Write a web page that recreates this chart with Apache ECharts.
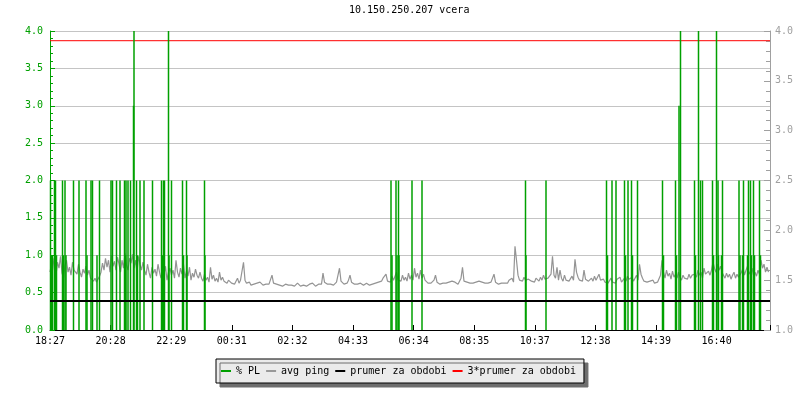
<!DOCTYPE html>
<html>
<head>
<meta charset="utf-8">
<script src="https://cdn.jsdelivr.net/npm/echarts@6/dist/echarts.min.js"></script>
<style>html,body{margin:0;padding:0;background:#fff}#c{width:800px;height:400px}</style>
</head>
<body>
<div id="c"></div>
<script>
// X axis: minutes since 18:27, 24 h window; labels every ~121.2 min
var tickLabels = ['18:27','20:28','22:29','00:31','02:32','04:33','06:34','08:35','10:37','12:38','14:39','16:40'];
var leftTicks = ['0.0','0.5','1.0','1.5','2.0','2.5','3.0','3.5','4.0'];

// % PL events: [minute, value]
var plEvents = [
  [1,2],[3,1],[5,1],[9,2],[11,2],[13,1],[25,2],[27,1],[30,2],[32,1],[47,2],[58,2],[72,2],[74,1],
  [82,2],[85,2],[94,1],[99,2],[122,2],[125,2],[133,2],[140,2],[149,2],[151,1],[152,2],[156,2],
  [161,2],[167,3],[168,4],[173,2],[175,1],[180,2],[188,2],[205,2],[223,2],[225,1],[227,2],[229,2],
  [237,4],[238,1],[243,2],[265,2],[267,1],[273,2],[274,1],[309,2],[310,1],
  [682,2],[684,1],[692,2],[694,1],[697,2],[698,1],[724,2],[744,2],[951,2],[952,1],
  [992,2],[1113,2],[1115,1],[1124,2],[1132,2],[1149,2],[1151,1],[1156,2],[1163,2],[1165,1],[1175,2],
  [1225,2],[1227,1],[1251,2],[1253,1],[1258,3],[1261,4],[1289,2],[1291,1],[1297,4],[1301,2],[1305,2],
  [1325,2],[1327,1],[1333,4],[1336,2],[1337,1],[1343,1],[1345,2],[1378,2],[1380,1],[1385,1],[1387,2],
  [1395,1],[1397,2],[1401,2],[1403,1],[1407,2],[1409,1],[1419,2],[1421,1]
];

// avg ping (ms), one sample every 3 minutes from 18:27
var avgPing = [
  1.58,1.66,1.72,1.60,1.55,1.68,1.62,1.74,1.57,1.52,1.65,1.70,1.58,1.63,1.55,1.68,1.60,
  1.62,1.56,1.66,1.58,1.53,1.61,1.57,1.64,1.55,1.60,1.52,1.50,1.49,1.52,1.48,1.50,1.54,
  1.58,1.67,1.60,1.72,1.63,1.70,1.58,1.75,1.64,1.69,1.60,1.73,1.66,1.58,1.70,1.62,1.77,1.65,1.60,1.72,1.67,1.76,1.62,1.70,1.58,1.74,1.66,1.60,1.68,
  1.60,1.55,1.66,1.58,1.52,1.63,1.57,1.61,1.54,1.66,1.58,1.52,1.60,1.56,1.64,1.50,1.58,1.62,
  1.55,1.60,1.52,1.70,1.58,1.53,1.62,1.56,1.66,1.52,1.59,1.54,1.63,1.50,1.57,1.53,1.61,1.55,1.52,1.58,
  1.52,1.49,1.56,1.50,1.53,1.48,1.63,1.51,1.55,1.49,1.52,1.48,1.58,1.50,1.53,1.49,1.51,1.47,1.50,1.48,
  1.47,1.49,1.46,1.48,1.52,1.47,1.50,1.49,1.68,1.50,1.47,1.46,1.48,1.45,1.47,1.46,1.45,1.47,1.46,1.48,
  1.46,1.45,1.47,1.46,1.44,1.46,1.48,1.55,1.47,1.45,1.46,1.44,1.45,1.47,1.44,1.45,1.46,1.44,1.45,1.46,
  1.45,1.46,1.44,1.45,1.47,1.45,1.44,1.46,1.45,1.47,1.44,1.45,1.46,1.45,1.47,1.46,1.44,1.45,1.46,1.48,
  1.46,1.57,1.48,1.47,1.46,1.45,1.46,1.47,1.45,1.46,
  1.48,1.50,1.62,1.49,1.47,1.46,1.48,1.47,1.50,1.55,1.48,1.47,1.46,1.47,1.46,1.45,1.47,1.46,1.45,1.46,
  1.47,1.46,1.45,1.47,1.46,1.48,1.47,1.46,1.48,1.47,
  1.49,1.52,1.50,1.56,1.49,1.51,1.48,1.54,1.50,1.49,1.58,1.50,1.52,1.49,1.55,1.50,1.53,1.49,1.57,1.51,
  1.55,1.50,1.62,1.53,1.57,1.51,1.60,1.52,1.56,1.50,
  1.48,1.47,1.49,1.47,1.48,1.50,1.55,1.48,1.47,1.46,1.48,1.47,1.49,1.47,1.46,1.48,1.47,1.49,1.47,1.48,
  1.47,1.46,1.49,1.52,1.63,1.49,1.47,1.48,1.46,1.47,1.48,1.47,1.46,1.48,1.47,1.49,1.47,1.48,1.46,1.47,
  1.48,1.47,1.49,1.48,1.47,1.56,1.48,1.47,1.46,1.48,1.47,1.49,1.47,1.48,1.47,1.50,1.49,1.52,1.48,1.84,
  1.70,1.55,1.50,
  1.52,1.49,1.53,1.50,1.48,1.51,1.49,
  1.49,1.50,1.48,1.52,1.50,1.49,1.53,1.50,1.55,1.51,1.49,1.52,1.50,1.56,1.74,1.55,1.52,1.63,1.50,1.60,
  1.52,1.49,1.55,1.50,1.52,1.49,1.51,1.54,1.50,1.71,1.58,1.53,1.50,1.52,1.49,1.60,1.51,1.53,1.49,1.50,
  1.52,1.49,1.54,1.50,1.48,1.56,1.50,1.49,1.51,1.48,1.50,1.47,1.49,1.52,1.48,1.50,1.47,1.51,1.49,1.53,
  1.48,1.50,1.52,1.49,1.54,1.51,1.50,1.53,1.49,1.52,1.55,1.50,1.66,1.56,1.52,1.49,1.51,1.48,1.50,1.49,
  1.48,1.50,1.47,1.49,1.48,1.50,
  1.55,1.70,1.58,1.52,1.60,1.54,1.57,1.51,1.59,1.53,1.56,1.52,1.58,
  1.53,1.50,1.55,1.52,1.54,1.51,1.56,1.52,1.55,1.53,
  1.56,1.53,1.60,1.55,1.58,1.52,1.62,1.56,1.54,1.59,1.55,1.60,
  1.68,1.62,1.58,1.66,1.60,1.64,1.58,
  1.55,1.52,1.57,1.53,1.56,1.51,1.55,1.58,1.52,1.56,1.53,1.55,
  1.58,1.62,1.55,1.60,1.64,1.56,1.59,1.62,1.55,1.58,
  1.54,1.60,1.56,1.70,1.62,1.66,1.58,1.63,1.58
];
var sampleStep = 3;
var meanPing = 1.29;     // prumer za obdobi (right axis)
var tripleMean = 3.87;   // 3*prumer za obdobi (left axis)

var font = 'DejaVu Sans Mono';
var pingData = avgPing.map(function (v, i) { return [i * sampleStep, v]; });

var chart = echarts.init(document.getElementById('c'), null, {renderer: 'canvas'});
chart.setOption({
  animation: false,
  backgroundColor: '#ffffff',
  title: {
    text: '10.150.250.207 vcera', left: 349, top: 5, padding: 0,
    textStyle: {fontFamily: font, fontSize: 10, fontWeight: 'normal', color: '#000'}
  },
  legend: {
    left: 216, top: 359,
    padding: [6, 8, 6, 5],
    itemGap: 6, itemWidth: 10, itemHeight: 2, icon: 'rect',
    backgroundColor: '#ebebeb', borderColor: '#000', borderWidth: 1,
    shadowColor: '#6e6e6e', shadowBlur: 0, shadowOffsetX: 4, shadowOffsetY: 4,
    textStyle: {fontFamily: font, fontSize: 10, color: '#000', lineHeight: 12},
    data: ['% PL', 'avg ping', 'prumer za obdobi', '3*prumer za obdobi']
  },
  grid: {left: 50, right: 30, top: 31, bottom: 70, containLabel: false},
  xAxis: {
    type: 'value', min: 0, max: 1440, interval: 121.2,
    axisLine: {lineStyle: {color: '#000', width: 1}},
    axisTick: {inside: true, length: 5, lineStyle: {color: '#000'}},
    axisLabel: {
      fontFamily: font, fontSize: 10, color: '#000', margin: 6,
      formatter: function (v) { var k = Math.round(v / 121.2); return (Math.abs(v - k * 121.2) < 0.01 && tickLabels[k]) || ''; }
    },
    splitLine: {show: false}
  },
  yAxis: [{
    type: 'value', min: 0, max: 4, interval: 0.5, position: 'left',
    axisLine: {show: true, lineStyle: {color: '#00a000'}},
    axisTick: {show: true, inside: true, length: 5, lineStyle: {color: '#00a000'}},
    minorTick: {show: true, splitNumber: 5, length: 3, lineStyle: {color: '#00a000'}},
    axisLabel: {fontFamily: font, fontSize: 10, color: '#00a000', margin: 7,
      formatter: function (v) { return leftTicks[Math.round(v / 0.5)] || ''; }},
    splitLine: {show: true, lineStyle: {color: '#c4c4c4', width: 1}}
  }, {
    type: 'value', min: 1, max: 4, interval: 0.5, position: 'right',
    axisLine: {show: true, lineStyle: {color: '#a0a0a0'}},
    axisTick: {show: true, inside: true, length: 6, lineStyle: {color: '#a0a0a0'}},
    minorTick: {show: true, splitNumber: 5, length: 4, lineStyle: {color: '#a0a0a0'}},
    axisLabel: {fontFamily: font, fontSize: 10, color: '#a0a0a0', margin: 5,
      formatter: function (v) { return v.toFixed(1); }},
    splitLine: {show: false}
  }],
  series: [{
    name: 'avg ping', type: 'line', yAxisIndex: 1, data: pingData,
    showSymbol: false, symbol: 'none', color: '#999999', z: 2,
    lineStyle: {width: 1.2, color: '#949494'}
  }, {
    name: '% PL', type: 'bar', yAxisIndex: 0, data: plEvents,
    barWidth: 1.5, color: '#00a000', z: 3,
    itemStyle: {color: '#00a000'}
  }, {
    name: 'prumer za obdobi', type: 'line', yAxisIndex: 1,
    data: [[0, meanPing], [1440, meanPing]], symbol: 'none', color: '#000', z: 4,
    lineStyle: {width: 2, color: '#000'}
  }, {
    name: '3*prumer za obdobi', type: 'line', yAxisIndex: 0,
    data: [[0, tripleMean], [1440, tripleMean]], symbol: 'none', color: '#ff0000', z: 2,
    lineStyle: {width: 1, color: '#ff0000'}
  }]
});
</script>
</body>
</html>
